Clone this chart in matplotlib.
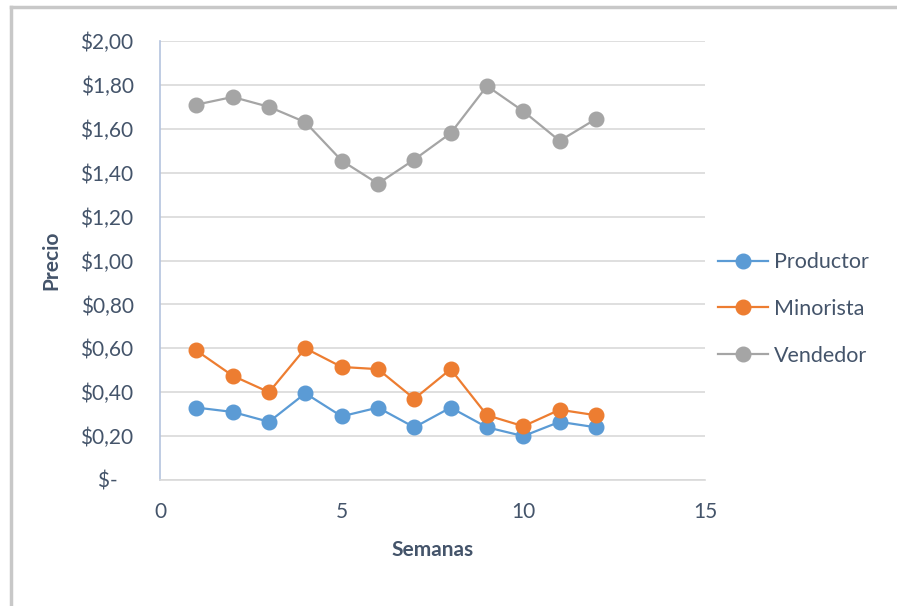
import matplotlib.pyplot as plt
from matplotlib.lines import Line2D

semanas = [1, 2, 3, 4, 5, 6, 7, 8, 9, 10, 11, 12]
productor = [0.33, 0.31, 0.265, 0.395, 0.29, 0.33, 0.24, 0.33, 0.24, 0.20, 0.265, 0.24]
minorista = [0.59, 0.475, 0.40, 0.60, 0.515, 0.505, 0.37, 0.505, 0.295, 0.245, 0.32, 0.295]
vendedor = [1.71, 1.745, 1.70, 1.63, 1.455, 1.35, 1.46, 1.58, 1.795, 1.68, 1.545, 1.645]
series_names = ["Productor", "Minorista", "Vendedor"]
y_ticks = [0, 0.2, 0.4, 0.6, 0.8, 1.0, 1.2, 1.4, 1.6, 1.8, 2.0]
y_labels = ["$-   ", "$0,20", "$0,40", "$0,60", "$0,80", "$1,00", "$1,20",
            "$1,40", "$1,60", "$1,80", "$2,00"]
x_ticks = [0, 5, 10, 15]

plt.rcParams['font.family'] = ['Lato', 'DejaVu Sans']
txt = '#44546A'
colors = ['#5B9BD5', '#ED7D31', '#A5A5A5']

fig = plt.figure(figsize=(8.97, 6.06), dpi=100)
ax = fig.add_axes([160/897, 1-480/606, 545/897, 439/606])

for vals, c, n in zip([productor, minorista, vendedor], colors, series_names):
    ax.plot(semanas, vals, color=c, lw=1.6, marker='o', markersize=10.5,
            markeredgecolor=c, label=n, zorder=3)

ax.set_xlim(0, 15)
ax.set_ylim(0, 2.0)
ax.set_xticks(x_ticks)
ax.set_yticks(y_ticks)
ax.set_yticklabels(y_labels)
ax.tick_params(length=0, labelsize=15, colors=txt)
ax.tick_params(axis='y', pad=19)
ax.tick_params(axis='x', pad=16)
ax.grid(axis='y', color='#D9D9D9', lw=1.2)
ax.set_axisbelow(True)
for s in ['top', 'right']:
    ax.spines[s].set_visible(False)
ax.spines['left'].set_color('#B4C3DE')
ax.spines['bottom'].set_color('#D9D9D9')
ax.spines['left'].set_linewidth(1.2)
ax.spines['bottom'].set_linewidth(1.2)

ax.set_xlabel("Semanas", fontsize=15, fontweight='bold', color=txt, labelpad=13)
ax.set_ylabel("Precio", fontsize=15, fontweight='bold', color=txt, labelpad=14)

leg = fig.legend(loc='center left', bbox_to_anchor=(699/897, 1-309/606),
                 frameon=False, fontsize=15.5, labelcolor=txt,
                 handlelength=2.3, handletextpad=0.3, labelspacing=1.25)

# outer chart border (top and left visible)
fig.add_artist(Line2D([11/897, 1.0], [1-7/606, 1-7/606], transform=fig.transFigure,
                      color='#C8C8C8', lw=2.5))
fig.add_artist(Line2D([11/897, 11/897], [0, 1-7/606], transform=fig.transFigure,
                      color='#C8C8C8', lw=2.5))

fig.savefig('out.png', dpi=100)
